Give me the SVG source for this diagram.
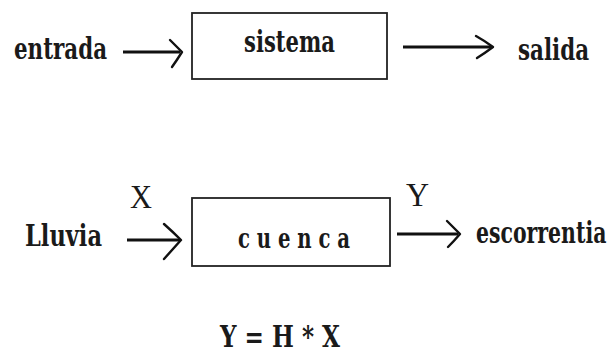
<svg xmlns="http://www.w3.org/2000/svg" width="615" height="354" viewBox="0 0 615 354">
<style>
text{font-family:"DejaVu Serif","Liberation Serif",serif;font-weight:bold;fill:#1a1a1a}
.lt{font-family:"Liberation Serif","DejaVu Serif",serif;font-weight:normal}
.box{fill:#fff;stroke:#222;stroke-width:1.8}
.ln{stroke:#111;stroke-width:3;fill:none}
.hd{stroke:#111;stroke-width:2.4;fill:none;stroke-linecap:round;stroke-linejoin:round}
</style>
<rect width="615" height="354" fill="#fff"/>
<g id="sistema"><rect class="box" x="192" y="13" width="195" height="66"/><text x="244" y="52" font-size="29" textLength="91" lengthAdjust="spacingAndGlyphs">sistema</text></g>
<g id="entrada"><text x="14" y="59" font-size="29" textLength="93" lengthAdjust="spacingAndGlyphs">entrada</text></g>
<g id="salida"><text x="518" y="60" font-size="29" textLength="71" lengthAdjust="spacingAndGlyphs">salida</text></g>
<g id="cuenca"><rect class="box" x="192" y="198" width="198" height="68"/><text x="238" y="248" font-size="27" textLength="112" lengthAdjust="spacingAndGlyphs">c u e n c a</text></g>
<g id="lluvia"><text x="25" y="246" font-size="29" textLength="77" lengthAdjust="spacingAndGlyphs">Lluvia</text></g>
<g id="escorrentia"><text transform="translate(476 243) scale(0.705 1)" x="0" y="0" font-size="29">escorrentia</text></g>
<g id="labels">
<text class="lt" x="130" y="208" font-size="33" textLength="22" lengthAdjust="spacingAndGlyphs">X</text>
<text class="lt" x="406" y="206" font-size="33" textLength="23" lengthAdjust="spacingAndGlyphs">Y</text>
<text x="220" y="347" font-size="29" font-weight="normal" textLength="120" lengthAdjust="spacingAndGlyphs">Y = H * X</text>
</g>
<g id="connectors">
<line class="ln" x1="123" y1="52" x2="180" y2="52"/><path class="hd" d="M170 40 Q176 46 182 52 Q177 60 172 67"/>
<line class="ln" x1="403" y1="47" x2="491" y2="47"/><path class="hd" d="M476 36 Q485 41 493 47 Q485 53 477 58"/>
<line class="ln" x1="127" y1="240" x2="180" y2="240"/><path class="hd" d="M164 224 Q173 232 181 240 Q172 250 164 259"/>
<line class="ln" x1="397" y1="234" x2="458" y2="234"/><path class="hd" d="M447 221 Q454 228 460 234 Q454 241 448 247"/>
</g>
</svg>
